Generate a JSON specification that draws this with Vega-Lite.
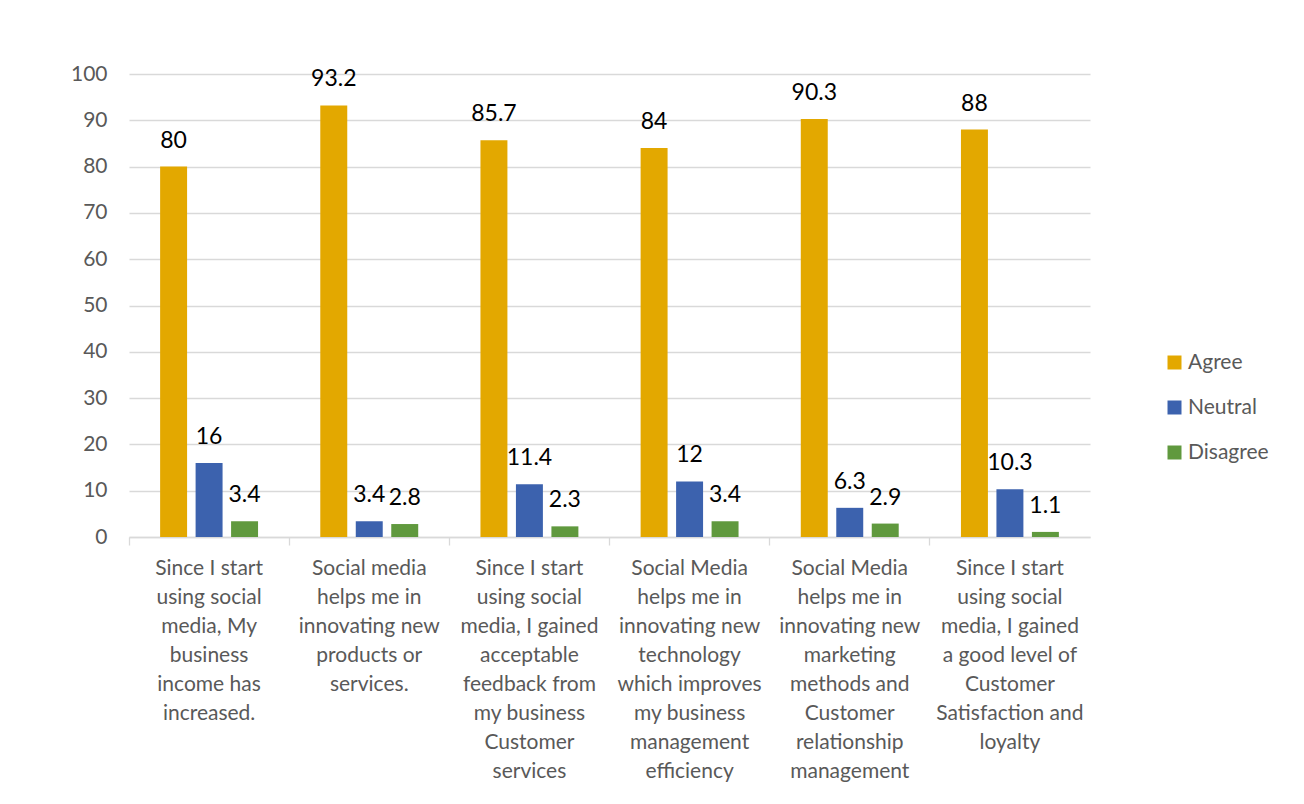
{
  "$schema": "https://vega.github.io/schema/vega-lite/v6.json",
  "width": 961,
  "height": 463,
  "autosize": "none",
  "padding": {"left": 129, "top": 74, "right": 214, "bottom": 267},
  "background": "#ffffff",
  "config": {
    "font": "Lato",
    "view": {"stroke": null}
  },
  "data": {
    "values": [
      {"cat": "Since I start|using social|media, My|business|income has|increased.", "resp": "Agree", "value": 80},
      {"cat": "Since I start|using social|media, My|business|income has|increased.", "resp": "Neutral", "value": 16},
      {"cat": "Since I start|using social|media, My|business|income has|increased.", "resp": "Disagree", "value": 3.4},
      {"cat": "Social media|helps me in|innovating new|products or|services.", "resp": "Agree", "value": 93.2},
      {"cat": "Social media|helps me in|innovating new|products or|services.", "resp": "Neutral", "value": 3.4},
      {"cat": "Social media|helps me in|innovating new|products or|services.", "resp": "Disagree", "value": 2.8},
      {"cat": "Since I start|using social|media, I gained|acceptable|feedback from|my business|Customer|services", "resp": "Agree", "value": 85.7},
      {"cat": "Since I start|using social|media, I gained|acceptable|feedback from|my business|Customer|services", "resp": "Neutral", "value": 11.4},
      {"cat": "Since I start|using social|media, I gained|acceptable|feedback from|my business|Customer|services", "resp": "Disagree", "value": 2.3},
      {"cat": "Social Media|helps me in|innovating new|technology|which improves|my business|management|efficiency", "resp": "Agree", "value": 84},
      {"cat": "Social Media|helps me in|innovating new|technology|which improves|my business|management|efficiency", "resp": "Neutral", "value": 12},
      {"cat": "Social Media|helps me in|innovating new|technology|which improves|my business|management|efficiency", "resp": "Disagree", "value": 3.4},
      {"cat": "Social Media|helps me in|innovating new|marketing|methods and|Customer|relationship|management", "resp": "Agree", "value": 90.3},
      {"cat": "Social Media|helps me in|innovating new|marketing|methods and|Customer|relationship|management", "resp": "Neutral", "value": 6.3},
      {"cat": "Social Media|helps me in|innovating new|marketing|methods and|Customer|relationship|management", "resp": "Disagree", "value": 2.9},
      {"cat": "Since I start|using social|media, I gained|a good level of|Customer|Satisfaction and|loyalty", "resp": "Agree", "value": 88},
      {"cat": "Since I start|using social|media, I gained|a good level of|Customer|Satisfaction and|loyalty", "resp": "Neutral", "value": 10.3},
      {"cat": "Since I start|using social|media, I gained|a good level of|Customer|Satisfaction and|loyalty", "resp": "Disagree", "value": 1.1}
    ]
  },
  "encoding": {
    "x": {
      "field": "cat",
      "type": "nominal",
      "sort": null,
      "scale": {"paddingInner": 0, "paddingOuter": 0},
      "axis": {
        "title": null,
        "labelAngle": 0,
        "labelExpr": "split(datum.label, '|')",
        "labelFont": "Lato",
        "labelFontSize": 21,
        "labelColor": "#595959",
        "labelLineHeight": 29,
        "labelPadding": 12,
        "labelLimit": 200,
        "bandPosition": 0,
        "domainColor": "#D9D9D9",
        "domainWidth": 1.3,
        "tickColor": "#D9D9D9",
        "tickSize": 8,
        "tickWidth": 1.3,
        "grid": false
      }
    },
    "xOffset": {
      "field": "resp",
      "type": "nominal",
      "sort": ["Agree", "Neutral", "Disagree"],
      "scale": {"paddingInner": 0.24, "paddingOuter": 0.877}
    },
    "y": {
      "field": "value",
      "type": "quantitative",
      "scale": {"domain": [0, 100], "nice": false},
      "axis": {
        "title": null,
        "values": [0, 10, 20, 30, 40, 50, 60, 70, 80, 90, 100],
        "domain": false,
        "ticks": false,
        "labelFont": "Lato",
        "labelFontSize": 21,
        "labelColor": "#595959",
        "labelPadding": 22,
        "gridColor": "#D9D9D9",
        "gridWidth": 1.3
      }
    }
  },
  "layer": [
    {
      "mark": {"type": "bar"},
      "encoding": {
        "color": {
          "field": "resp",
          "type": "nominal",
          "sort": ["Agree", "Neutral", "Disagree"],
          "scale": {"domain": ["Agree", "Neutral", "Disagree"], "range": ["#E3A800", "#3C62AE", "#60993E"]},
          "legend": {
            "title": null,
            "orient": "none",
            "legendX": 1035,
            "legendY": 278,
            "symbolType": "square",
            "symbolSize": 196,
            "symbolStrokeWidth": 0,
            "labelFont": "Lato",
            "labelFontSize": 21,
            "labelColor": "#595959",
            "labelOffset": 3,
            "rowPadding": 23
          }
        }
      }
    },
    {
      "mark": {"type": "text", "baseline": "alphabetic", "dy": -19, "fontSize": 23, "font": "Lato", "color": "#000000"},
      "encoding": {
        "text": {"field": "value", "type": "quantitative"}
      }
    }
  ]
}
